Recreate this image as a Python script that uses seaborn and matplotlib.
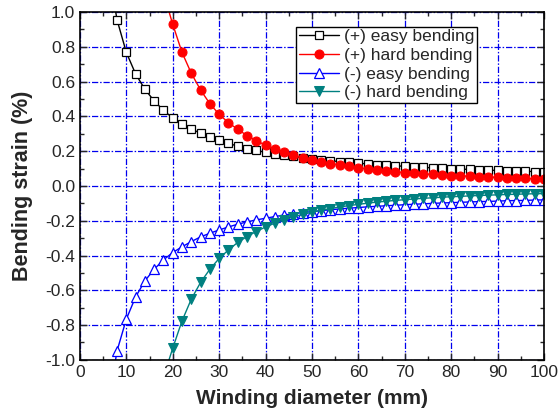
import matplotlib
matplotlib.use("Agg")
import matplotlib.pyplot as plt
from matplotlib.ticker import MultipleLocator
import seaborn as sns

# winding diameter (mm)
d_easy = list(range(6, 101, 2))
d_hard = list(range(18, 101, 2))

# bending strain (%)
pos_easy = [1.27, 0.955, 0.768, 0.644, 0.556, 0.489, 0.435, 0.391, 0.358, 0.329, 0.302,
            0.282, 0.263, 0.245, 0.229, 0.215, 0.204, 0.194, 0.186, 0.177, 0.170,
            0.163, 0.157, 0.151, 0.145, 0.140, 0.135, 0.131, 0.127, 0.123, 0.119,
            0.116, 0.113, 0.110, 0.107, 0.104, 0.102, 0.099, 0.097, 0.095, 0.093,
            0.091, 0.089, 0.087, 0.086, 0.084, 0.083, 0.081]
pos_hard = [1.11, 0.930, 0.768, 0.648, 0.552, 0.473, 0.412, 0.364, 0.326, 0.290, 0.261,
            0.234, 0.212, 0.193, 0.177, 0.163, 0.150, 0.139, 0.129, 0.120, 0.112,
            0.104, 0.098, 0.092, 0.087, 0.082, 0.077, 0.073, 0.070, 0.066, 0.063,
            0.060, 0.058, 0.055, 0.053, 0.051, 0.049, 0.047, 0.045, 0.043, 0.041,
            0.040]
neg_easy = [-1.27, -0.948, -0.766, -0.638, -0.546, -0.479, -0.425, -0.383, -0.350, -0.320,
            -0.293, -0.272, -0.253, -0.236, -0.220, -0.207, -0.195, -0.186, -0.176,
            -0.167, -0.160, -0.153, -0.147, -0.142, -0.137, -0.132, -0.128, -0.124,
            -0.120, -0.117, -0.114, -0.111, -0.108, -0.105, -0.103, -0.100, -0.098,
            -0.096, -0.094, -0.092, -0.090, -0.089, -0.087, -0.085, -0.084, -0.083,
            -0.081, -0.080]
neg_hard = [-1.10, -0.933, -0.776, -0.651, -0.555, -0.479, -0.417, -0.368, -0.325, -0.291,
            -0.262, -0.236, -0.214, -0.195, -0.178, -0.164, -0.151, -0.140, -0.130,
            -0.121, -0.113, -0.106, -0.099, -0.093, -0.088, -0.083, -0.079, -0.075,
            -0.071, -0.068, -0.065, -0.062, -0.060, -0.057, -0.055, -0.053, -0.051,
            -0.049, -0.048, -0.046, -0.045, -0.044]

sns.set_style("ticks")
plt.rcParams['font.family'] = ['Liberation Sans', 'DejaVu Sans']

fig = plt.figure(figsize=(5.59, 4.16), dpi=100)
ax = fig.add_axes([0.143, 0.135, 0.830, 0.836])

sns.lineplot(x=d_easy, y=pos_easy, ax=ax, color='black', lw=1, marker='s', ms=5.2,
             markerfacecolor='white', markeredgecolor='black', mew=0.9,
             label='(+) easy bending')
sns.lineplot(x=d_hard, y=pos_hard, ax=ax, color='red', lw=1, marker='o', ms=6.5,
             markerfacecolor='red', markeredgecolor='red',
             label='(+) hard bending')
sns.lineplot(x=d_easy, y=neg_easy, ax=ax, color='blue', lw=1, marker='^', ms=7,
             markerfacecolor='white', markeredgecolor='blue', mew=0.9,
             label='(-) easy bending')
sns.lineplot(x=d_hard, y=neg_hard, ax=ax, color='#008080', lw=1, marker='v', ms=6.8,
             markerfacecolor='#008080', markeredgecolor='#008080',
             label='(-) hard bending')

ax.set_xlim(0, 100)
ax.set_ylim(-1.0, 1.0)
ax.xaxis.set_major_locator(MultipleLocator(10))
ax.xaxis.set_minor_locator(MultipleLocator(5))
ax.yaxis.set_major_locator(MultipleLocator(0.2))
ax.yaxis.set_minor_locator(MultipleLocator(0.1))
ax.yaxis.set_major_formatter(matplotlib.ticker.FormatStrFormatter('%.1f'))
ax.tick_params(which='both', direction='in', top=True, right=True, width=1)
ax.tick_params(which='major', length=5, labelsize=12.5)
ax.tick_params(which='minor', length=3)
ax.grid(True, which='major', color='#0000ee', ls=(0, (5, 1.5, 1.2, 1.5)), lw=0.9)
for s in ax.spines.values():
    s.set_linewidth(1.2)
    s.set_color('black')

ax.set_xlabel('Winding diameter (mm)', fontsize=15, fontweight='bold', labelpad=7)
ax.set_ylabel('Bending strain (%)', fontsize=15.5, fontweight='bold', labelpad=9)

leg = ax.legend(loc='upper left', bbox_to_anchor=(0.466, 0.958), fontsize=12.5,
                frameon=True, fancybox=False, edgecolor='black', framealpha=1,
                handlelength=2.3, handletextpad=0.3, borderpad=0.15, labelspacing=0.2,
                borderaxespad=0)
leg.get_frame().set_linewidth(1)

fig.savefig('out.png', dpi=100)
